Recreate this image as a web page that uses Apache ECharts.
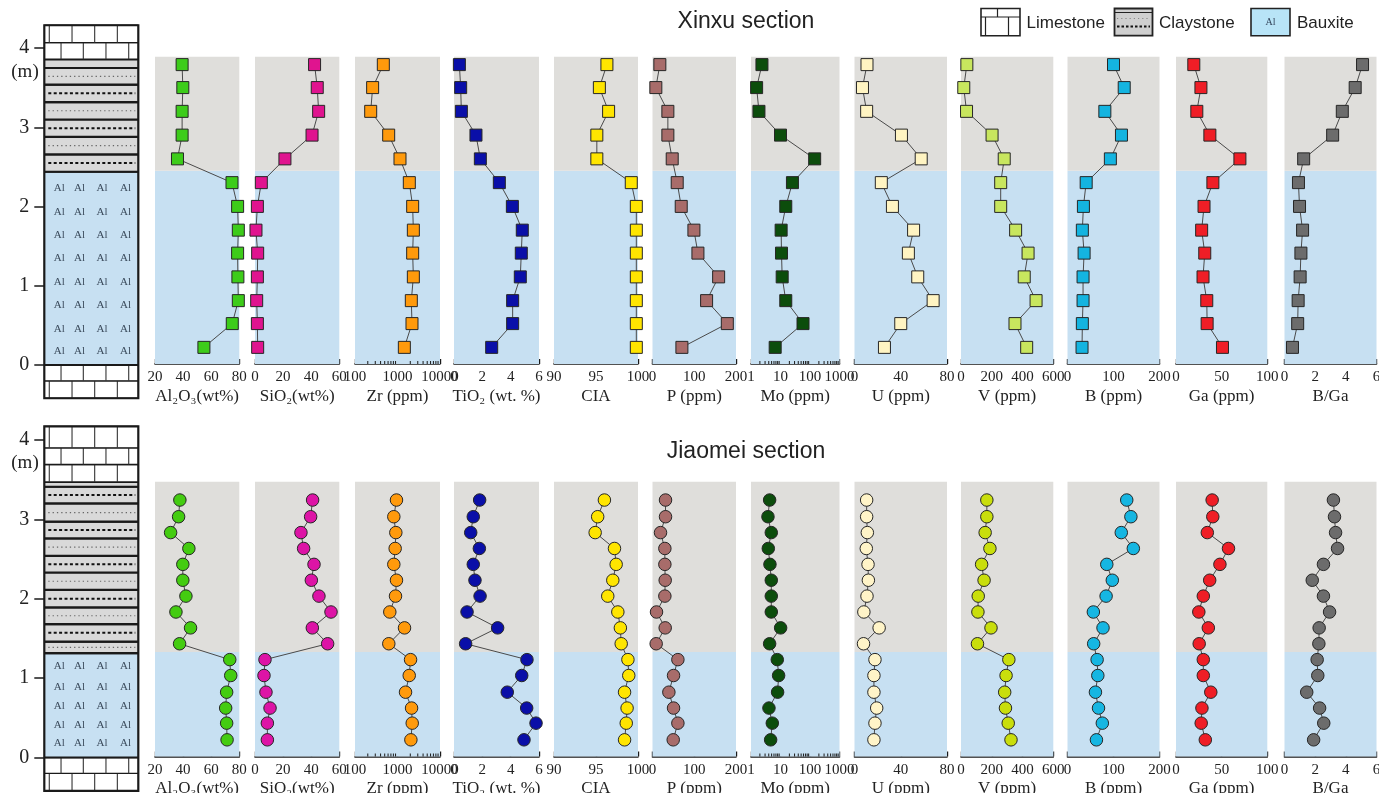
<!DOCTYPE html>
<html><head><meta charset="utf-8">
<script src="https://cdn.jsdelivr.net/npm/echarts/dist/echarts.min.js"></script>
<style>html,body{margin:0;padding:0;background:#fff}#c{width:1379px;height:793px}</style>
</head><body><div id="c"></div>
<script>
// ================= DATA =================
const panelNames = ['Al\u2082O\u2083(wt%)', 'SiO\u2082(wt%)', 'Zr (ppm)', 'TiO\u2082 (wt. %)', 'CIA', 'P (ppm)', 'Mo (ppm)', 'U (ppm)', 'V (ppm)', 'B (ppm)', 'Ga (ppm)', 'B/Ga'];
const axisType = ['value','value','log','value','value','value','log','value','value','value','value','value'];
const axisMin = [20, 0, 100, 0, 90, 0, 1, 0, 0, 0, 0, 0];
const axisMax = [80, 60, 10000, 6, 100, 200, 1000, 80, 600, 200, 100, 6];
const axisInterval = [20, 20, null, 2, 5, 100, null, 40, 200, 100, 50, 2];
const zrMinorTicks = [200,300,400,500,600,700,800,900,2000,3000,4000,5000,6000,7000,8000,9000];
const moMinorTicks = [2,3,4,5,6,7,8,9,20,30,40,50,60,70,80,90,200,300,400,500,600,700,800,900];

// Xinxu section (samples listed top to bottom), depth in m
const depthX = [3.78, 3.49, 3.19, 2.89, 2.59, 2.29, 1.99, 1.69, 1.40, 1.10, 0.80, 0.51, 0.21];
const al2o3X = [39.3, 39.8, 39.3, 39.3, 36.0, 74.8, 78.8, 79.3, 78.8, 79.0, 79.3, 75.0, 54.8];
const sio2X  = [42.4, 44.3, 45.3, 40.6, 21.3, 4.5, 1.7, 0.7, 1.9, 1.7, 1.2, 1.7, 1.9];
const zrX    = [464, 260, 234, 620, 1145, 1897, 2275, 2360, 2275, 2360, 2115, 2193, 1449];
const tio2X  = [0.38, 0.47, 0.52, 1.55, 1.86, 3.20, 4.12, 4.82, 4.75, 4.68, 4.14, 4.14, 2.66];
const ciaX   = [96.3, 95.4, 96.5, 95.1, 95.1, 99.2, 99.8, 99.8, 99.8, 99.8, 99.8, 99.8, 99.8];
const pX     = [17.6, 8.0, 36.8, 36.8, 47.2, 59.2, 68.8, 99.2, 108.8, 158.4, 129.6, 179.2, 70.4];
const moX    = [2.35, 1.55, 1.86, 10.0, 144, 25.4, 15.1, 10.5, 10.8, 11.4, 15.1, 58.0, 6.6];
const uX     = [10.8, 6.9, 10.5, 40.6, 57.7, 23.2, 32.8, 51.1, 46.6, 54.7, 68.0, 40.0, 25.9];
const vX     = [38, 18, 36, 202, 281, 258, 258, 355, 436, 411, 488, 351, 427];
const bX     = [100, 123.3, 81.2, 117.3, 93.2, 40.6, 34.6, 32.3, 36.1, 33.8, 33.8, 32.3, 31.6];
const gaX    = [19.5, 27.3, 22.8, 37.1, 70.0, 40.4, 30.7, 28.1, 31.5, 29.6, 33.7, 34.1, 50.9];
const bgaX   = [5.09, 4.61, 3.77, 3.14, 1.25, 0.91, 0.98, 1.18, 1.07, 1.02, 0.89, 0.86, 0.52];
const boundaryX = 2.44, panelTopX = 3.88;

// Jiaomei section
const depthJ = [3.23, 3.02, 2.82, 2.62, 2.42, 2.22, 2.02, 1.82, 1.62, 1.42, 1.22, 1.02, 0.81, 0.61, 0.42, 0.21];
const al2o3J = [37.7, 36.8, 31.1, 44.1, 39.8, 39.8, 42.0, 34.9, 45.3, 37.5, 73.2, 73.9, 71.0, 70.3, 71.0, 71.3];
const sio2J  = [41.0, 39.6, 32.7, 34.6, 42.0, 40.1, 45.5, 54.1, 40.8, 51.7, 7.1, 6.4, 7.8, 10.7, 8.8, 8.8];
const zrJ    = [946, 819, 913, 881, 819, 946, 898, 659, 1462, 624, 2028, 1887, 1545, 2143, 2220, 2064];
const tio2J  = [1.81, 1.36, 1.18, 1.79, 1.36, 1.48, 1.84, 0.92, 3.08, 0.82, 5.15, 4.78, 3.76, 5.13, 5.79, 4.94];
const ciaJ   = [96.0, 95.2, 94.9, 97.2, 97.4, 97.0, 96.4, 97.6, 97.9, 98.0, 98.8, 98.9, 98.4, 98.7, 98.6, 98.4];
const pJ     = [31.2, 31.2, 19.2, 29.6, 29.6, 30.4, 29.6, 9.6, 30.4, 8.8, 60.8, 50.4, 39.2, 50.4, 60.8, 49.6];
const moJ    = [4.28, 3.76, 4.87, 3.86, 4.39, 4.87, 4.87, 4.87, 10.1, 4.28, 7.78, 8.63, 7.98, 4.06, 5.27, 4.63];
const uJ     = [10.5, 10.5, 11.1, 10.2, 11.7, 12.0, 10.8, 8.1, 21.3, 7.8, 17.7, 16.8, 16.8, 19.2, 17.7, 16.8];
const vJ     = [168, 168, 157, 188, 134, 150, 112, 110, 195, 107, 311, 293, 284, 289, 307, 325];
const bJ     = [128.8, 137.8, 116.9, 143.1, 85.4, 97.4, 83.9, 56.2, 77.2, 56.9, 64.4, 65.9, 60.7, 67.4, 75.7, 62.9];
const gaJ    = [39.6, 40.3, 34.3, 57.5, 48.1, 36.9, 29.9, 25.0, 35.4, 25.4, 29.9, 29.9, 38.1, 28.4, 27.6, 32.1];
const bgaJ   = [3.19, 3.26, 3.33, 3.46, 2.54, 1.81, 2.54, 2.94, 2.26, 2.24, 2.13, 2.17, 1.45, 2.29, 2.56, 1.90];
const boundaryJ = 1.315, panelTopJ = 3.46;

// lithology layers: [type, bottom depth, top depth, pattern]
const lithX = [
  ['lime', -0.42, -0.20, 'A'], ['lime', -0.20, 0, 'B'], ['baux', 0, 2.44, ''],
  ['clay', 2.44, 2.66, 'bold'], ['clay', 2.66, 2.88, 'fine'], ['clay', 2.88, 3.10, 'bold'],
  ['clay', 3.10, 3.32, 'fine'], ['clay', 3.32, 3.54, 'bold'], ['clay', 3.54, 3.75, 'fine'],
  ['clay', 3.75, 3.86, 'none'], ['lime', 3.86, 4.07, 'B'], ['lime', 4.07, 4.29, 'A']
];
const lithJ = [
  ['lime', -0.42, -0.20, 'A'], ['lime', -0.20, 0, 'B'], ['baux', 0, 1.315, ''],
  ['clay', 1.315, 1.46, 'fine'], ['clay', 1.46, 1.68, 'bold'], ['clay', 1.68, 1.89, 'fine'],
  ['clay', 1.89, 2.11, 'bold'], ['clay', 2.11, 2.33, 'fine'], ['clay', 2.33, 2.54, 'bold'],
  ['clay', 2.54, 2.76, 'fine'], ['clay', 2.76, 2.97, 'bold'], ['clay', 2.97, 3.20, 'fine'],
  ['clay', 3.20, 3.41, 'bold'], ['clay', 3.41, 3.47, 'none'], ['lime', 3.47, 3.69, 'A'],
  ['lime', 3.69, 3.90, 'B'], ['lime', 3.90, 4.17, 'A']
];
const alRowsX = [2.23, 1.93, 1.64, 1.35, 1.05, 0.75, 0.45, 0.18];
const alRowsJ = [1.15, 0.89, 0.65, 0.41, 0.18];
const alCols = [0.16, 0.375, 0.615, 0.865];
const legendItems = ['Limestone', 'Claystone', 'Bauxite'];

// ================= STYLE / LAYOUT =================
const SERIF = '"Liberation Serif","Times New Roman",serif';
const SANS = '"Liberation Sans",Arial,sans-serif';
const BLUE_BG = '#c7e0f2', GRAY_BG = '#dfdedb', CLAY = '#d9d9d9';
const brickA = [0.053, 0.295, 0.536, 0.777], brickB = [0.178, 0.415, 0.656, 0.898];
const panelLeft  = [155, 255, 355, 454, 554, 652.5, 751, 854.5, 961, 1067.5, 1176, 1284.5];
const panelWidth = [84.3, 84.3, 85, 85, 84, 83.5, 88.5, 92.5, 92.3, 92, 91.3, 92];
const colorsX = ['#3dcc1a','#e0148f','#ff9a0c','#0a0fa8','#ffe500','#a86c6a','#0c4d0c','#fff4c2','#c8e65e','#14b4e0','#ef1e26','#6c6c6c'];
const colorsJ = ['#44cc11','#dd14a6','#ff9a0c','#0a0fa8','#ffe500','#a86c6a','#0c4d0c','#fff4c8','#c9de0c','#16b6e2','#ef1e26','#6c6c6c'];

const sections = [
  {title:'Xinxu section', titleY:22, depth:depthX, vals:[al2o3X,sio2X,zrX,tio2X,ciaX,pX,moX,uX,vX,bX,gaX,bgaX],
   boundary:boundaryX, ptop:panelTopX, symbol:'rect', symSize:12, colors:colorsX, gTop:47.2, gH:316.8, lTop:48.2, lH:316.8,
   lith:lithX, alRows:alRowsX, mY:71.7},
  {title:'Jiaomei section', titleY:452, depth:depthJ, vals:[al2o3J,sio2J,zrJ,tio2J,ciaJ,pJ,moJ,uJ,vJ,bJ,gaJ,bgaJ],
   boundary:boundaryJ, ptop:panelTopJ, symbol:'circle', symSize:12.5, colors:colorsJ, gTop:438.9, gH:317.6, lTop:439.9, lH:317.6,
   lith:lithJ, alRows:alRowsJ, mY:463.3}
];

const grids = [], xAxes = [], yAxes = [], series = [], graphics = [];

function fmt(v){ const r = Math.round(v*1000)/1000; return String(r); }

sections.forEach((sec) => {
  // ----- panels -----
  panelNames.forEach((nm, i) => {
    const gi = grids.length;
    grids.push({left: panelLeft[i], width: panelWidth[i], top: sec.gTop, height: sec.gH, outerBoundsMode: 'none', containLabel: false});
    const isLog = axisType[i] === 'log';
    const xa = {
      gridIndex: gi, type: isLog ? 'log' : 'value', min: axisMin[i], max: axisMax[i],
      axisLine: {show: true, onZero: false, lineStyle: {color: '#1a1a1a', width: 1.6}},
      axisTick: {show: true, inside: true, length: 5, lineStyle: {color: '#1a1a1a', width: 1.4}},
      splitLine: {show: false}, minorTick: {show: false},
      axisLabel: {show: true, fontFamily: SERIF, fontSize: 15, color: '#222', margin: 6, formatter: fmt, hideOverlap: false},
      name: nm, nameLocation: 'middle', nameGap: 24,
      nameTextStyle: {fontFamily: SERIF, fontSize: 17, color: '#222'}
    };
    if (isLog) xa.logBase = 10; else xa.interval = axisInterval[i];
    xAxes.push(xa);
    yAxes.push({gridIndex: gi, type: 'value', min: 0, max: 4, show: false});
    // background (bauxite / claystone intervals)
    series.push({
      type: 'custom', xAxisIndex: gi, yAxisIndex: gi, z: 1, silent: true, clip: false,
      data: [[axisMin[i], 0, sec.boundary, sec.ptop]],
      renderItem: (params, api) => {
        const cs = params.coordSys;
        const yb = api.coord([api.value(0), api.value(1)])[1];
        const ym = api.coord([api.value(0), api.value(2)])[1];
        const yt = api.coord([api.value(0), api.value(3)])[1];
        return {type: 'group', children: [
          {type: 'rect', shape: {x: cs.x, y: ym, width: cs.width, height: yb - ym}, style: {fill: BLUE_BG}},
          {type: 'rect', shape: {x: cs.x, y: yt, width: cs.width, height: ym - yt}, style: {fill: GRAY_BG}}
        ]};
      }
    });
    // minor ticks for log axes
    if (isLog) {
      const mt = i === 2 ? zrMinorTicks : moMinorTicks;
      series.push({
        type: 'custom', xAxisIndex: gi, yAxisIndex: gi, z: 4, silent: true, clip: false,
        data: mt.map(v => [v, 0]),
        renderItem: (params, api) => {
          const p = api.coord([api.value(0), 0]);
          return {type: 'line', shape: {x1: p[0], y1: p[1], x2: p[0], y2: p[1] - 3}, style: {stroke: '#1a1a1a', lineWidth: 1}};
        }
      });
    }
    // profile
    series.push({
      type: 'line', xAxisIndex: gi, yAxisIndex: gi, z: 3,
      data: sec.depth.map((d, k) => [sec.vals[i][k], d]),
      symbol: sec.symbol, symbolSize: sec.symSize, showSymbol: true,
      itemStyle: {color: sec.colors[i], borderColor: '#262626', borderWidth: 1},
      lineStyle: {color: '#4a4a4a', width: 1},
      emphasis: {disabled: true}, animation: false
    });
  });

  // ----- lithology column -----
  const li = grids.length;
  grids.push({left: 44.3, width: 94, top: sec.lTop, height: sec.lH, outerBoundsMode: 'none', containLabel: false});
  xAxes.push({gridIndex: li, type: 'value', min: 0, max: 1, show: false});
  yAxes.push({gridIndex: li, type: 'value', min: 0, max: 4, interval: 1, position: 'left',
    axisLine: {show: false}, splitLine: {show: false},
    axisTick: {show: true, length: 10, lineStyle: {color: '#1a1a1a', width: 1.5}},
    axisLabel: {fontFamily: SERIF, fontSize: 20, color: '#222', margin: 15, formatter: v => String(v)}});
  const lith = sec.lith;
  series.push({
    type: 'custom', xAxisIndex: li, yAxisIndex: li, z: 1, silent: true, clip: false,
    data: lith.map(L => [0, L[1], L[2]]),
    renderItem: (params, api) => {
      const L = lith[params.dataIndex];
      const type = L[0], sub = L[3];
      const pT = api.coord([0, api.value(2)]), pB = api.coord([1, api.value(1)]);
      const x0 = pT[0], x1 = pB[0], y0 = pT[1], y1 = pB[1];
      const ch = [];
      const fill = type === 'lime' ? '#ffffff' : (type === 'clay' ? CLAY : BLUE_BG);
      ch.push({type: 'rect', shape: {x: x0, y: y0, width: x1 - x0, height: y1 - y0}, style: {fill: fill}});
      const lw = type === 'lime' ? 1.4 : 2.2;
      ch.push({type: 'line', shape: {x1: x0, y1: y0, x2: x1, y2: y0}, style: {stroke: '#1a1a1a', lineWidth: lw}});
      ch.push({type: 'line', shape: {x1: x0, y1: y1, x2: x1, y2: y1}, style: {stroke: '#1a1a1a', lineWidth: lw}});
      if (type === 'lime') {
        (sub === 'A' ? brickA : brickB).forEach(f => {
          const x = x0 + f * (x1 - x0);
          ch.push({type: 'line', shape: {x1: x, y1: y0, x2: x, y2: y1}, style: {stroke: '#333', lineWidth: 1.1}});
        });
      }
      if (type === 'clay' && sub !== 'none') {
        const ym = (y0 + y1) / 2;
        ch.push({type: 'line', shape: {x1: x0 + 4, y1: ym, x2: x1 - 3, y2: ym},
          style: sub === 'bold' ? {stroke: '#111', lineWidth: 2, lineDash: [3, 2.4]} : {stroke: '#666', lineWidth: 1.2, lineDash: [1.3, 3]}});
      }
      return {type: 'group', children: ch};
    }
  });
  // Al symbols in bauxite
  const alData = [];
  sec.alRows.forEach(r => alCols.forEach(c => alData.push([c, r])));
  series.push({
    type: 'custom', xAxisIndex: li, yAxisIndex: li, z: 2, silent: true, clip: false,
    data: alData,
    renderItem: (params, api) => {
      const p = api.coord([api.value(0), api.value(1)]);
      return {type: 'text', style: {text: 'Al', x: p[0], y: p[1], align: 'center', verticalAlign: 'middle',
        textAlign: 'center', textVerticalAlign: 'middle', font: '11px ' + SERIF, fill: '#3b4b5c'}};
    }
  });
  // outer frame
  const lb = lith[0][1], lt = lith[lith.length - 1][2];
  series.push({
    type: 'custom', xAxisIndex: li, yAxisIndex: li, z: 3, silent: true, clip: false,
    data: [[0, lb, lt]],
    renderItem: (params, api) => {
      const pT = api.coord([0, api.value(2)]), pB = api.coord([1, api.value(1)]);
      return {type: 'rect', shape: {x: pT[0], y: pT[1], width: pB[0] - pT[0], height: pB[1] - pT[1]},
        style: {fill: 'none', stroke: '#1a1a1a', lineWidth: 2.2}};
    }
  });

  graphics.push({type: 'text', x: 746, y: sec.titleY, style: {text: sec.title, font: '23px ' + SANS, fill: '#222',
    align: 'center', verticalAlign: 'middle', textAlign: 'center', textVerticalAlign: 'middle'}});
  graphics.push({type: 'text', x: 25, y: sec.mY, style: {text: '(m)', font: '19px ' + SERIF, fill: '#222',
    align: 'center', verticalAlign: 'middle', textAlign: 'center', textVerticalAlign: 'middle'}});
});

// ----- legend -----
const lgY = 8.5, lgH = 27.2;
// limestone icon
graphics.push({type: 'rect', shape: {x: 981, y: lgY, width: 39, height: lgH}, style: {fill: '#fff', stroke: '#222', lineWidth: 1.6}});
graphics.push({type: 'line', shape: {x1: 981, y1: 17, x2: 1020, y2: 17}, style: {stroke: '#222', lineWidth: 1.2}});
graphics.push({type: 'line', shape: {x1: 997.5, y1: lgY, x2: 997.5, y2: 17}, style: {stroke: '#222', lineWidth: 1.2}});
graphics.push({type: 'line', shape: {x1: 985.5, y1: 17, x2: 985.5, y2: lgY + lgH}, style: {stroke: '#222', lineWidth: 1.2}});
graphics.push({type: 'line', shape: {x1: 1008.5, y1: 17, x2: 1008.5, y2: lgY + lgH}, style: {stroke: '#222', lineWidth: 1.2}});
// claystone icon
graphics.push({type: 'rect', shape: {x: 1114.5, y: lgY, width: 38, height: lgH}, style: {fill: '#cfcfcf', stroke: '#222', lineWidth: 1.8}});
graphics.push({type: 'line', shape: {x1: 1114.5, y1: 12.5, x2: 1152.5, y2: 12.5}, style: {stroke: '#222', lineWidth: 1.2}});
graphics.push({type: 'line', shape: {x1: 1117, y1: 18.5, x2: 1150, y2: 18.5}, style: {stroke: '#888', lineWidth: 1, lineDash: [1.2, 3]}});
graphics.push({type: 'line', shape: {x1: 1117, y1: 26.5, x2: 1150, y2: 26.5}, style: {stroke: '#111', lineWidth: 1.8, lineDash: [2.5, 2]}});
// bauxite icon
graphics.push({type: 'rect', shape: {x: 1251, y: lgY, width: 39, height: lgH}, style: {fill: '#b8e4f7', stroke: '#222', lineWidth: 1.6}});
graphics.push({type: 'text', x: 1270.5, y: 22, style: {text: 'Al', font: '10px ' + SERIF, fill: '#33445a',
  align: 'center', verticalAlign: 'middle', textAlign: 'center', textVerticalAlign: 'middle'}});
const legendTextX = [1026.5, 1159, 1297];
legendItems.forEach((t, k) => graphics.push({type: 'text', x: legendTextX[k], y: 23, style: {text: t, font: '17px ' + SANS, fill: '#222',
  align: 'left', verticalAlign: 'middle', textAlign: 'left', textVerticalAlign: 'middle'}}));

const chart = echarts.init(document.getElementById('c'), null, {renderer: 'canvas', width: 1379, height: 793});
chart.setOption({
  animation: false,
  backgroundColor: '#ffffff',
  grid: grids, xAxis: xAxes, yAxis: yAxes, series: series,
  graphic: graphics,
  tooltip: {show: false}
});
</script></body></html>
